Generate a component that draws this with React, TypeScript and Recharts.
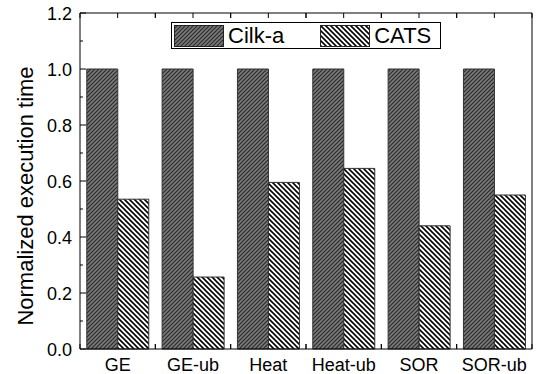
import { Bar, BarChart, Legend, XAxis, YAxis } from "recharts"

const BENCHMARKS = ["GE", "GE-ub", "Heat", "Heat-ub", "SOR", "SOR-ub"]
const CILK_A = [1.0, 1.0, 1.0, 1.0, 1.0, 1.0]
const CATS = [0.535, 0.257, 0.595, 0.645, 0.44, 0.55]
const Y_TICKS = [0, 0.1, 0.2, 0.3, 0.4, 0.5, 0.6, 0.7, 0.8, 0.9, 1.0, 1.1, 1.2]

const data = BENCHMARKS.map((name, i) => ({ name, cilk: CILK_A[i], cats: CATS[i] }))

const FONT = "'Liberation Sans', Arial, sans-serif"

// left axis: labels on majors, inward tick marks
function LeftTick(props: any) {
  const { x, y, payload, index } = props
  const axisX = x + 8
  const major = index % 2 === 0
  return (
    <g>
      <line x1={axisX} x2={axisX + (major ? 6 : 3)} y1={y} y2={y} stroke="#000" />
      {major && (
        <text x={x} y={y} dy={6.5} textAnchor="end" fontSize={18} fontFamily={FONT} fill="#000">
          {payload.value.toFixed(1)}
        </text>
      )}
    </g>
  )
}

function RightTick(props: any) {
  const { x, y, index } = props
  const major = index % 2 === 0
  return <line x1={x} x2={x - (major ? 6 : 3)} y1={y} y2={y} stroke="#000" />
}

function TopTick(props: any) {
  const { x, y, payload } = props
  const half = payload.offset || 452 / 12
  return (
    <g stroke="#000">
      <line x1={x - half} x2={x - half} y1={y} y2={y + 5} />
      <line x1={x} x2={x} y1={y} y2={y + 5} />
      <line x1={x + half} x2={x + half} y1={y} y2={y + 5} />
    </g>
  )
}

function BottomTick(props: any) {
  const { x, y, payload } = props
  const half = payload.offset || 452 / 12
  return (
    <g>
      <line x1={x - half} x2={x - half} y1={y} y2={y - 5} stroke="#000" />
      <line x1={x + half} x2={x + half} y1={y} y2={y - 5} stroke="#000" />
      <text x={x} y={y + 22} textAnchor="middle" fontSize={18} fontFamily={FONT} fill="#000">
        {payload.value}
      </text>
    </g>
  )
}

function LegendBox() {
  const item = (fill: string, label: string) => (
    <div style={{ display: "flex", alignItems: "center" }}>
      <svg width={50} height={22} style={{ display: "block" }}>
        <rect x={0.5} y={0.5} width={49} height={21} fill={fill} stroke="#222" />
      </svg>
      <span style={{ marginLeft: 4, fontSize: 22, lineHeight: "22px" }}>{label}</span>
    </div>
  )
  return (
    <div
      style={{
        position: "absolute",
        left: 171,
        top: 22,
        width: 266,
        height: 25,
        border: "1px solid #000",
        background: "#fff",
        display: "flex",
        alignItems: "center",
        gap: 36,
        paddingLeft: 2,
        fontFamily: FONT,
        color: "#000",
        boxSizing: "content-box",
      }}
    >
      {item("url(#hatch-cilk)", "Cilk-a")}
      {item("url(#hatch-cats)", "CATS")}
    </div>
  )
}

export default function App() {
  return (
    <div style={{ position: "absolute", left: 0, top: 0, width: 540, height: 374, background: "#fff" }}>
      <svg width={0} height={0} style={{ position: "absolute" }}>
        <defs>
          <pattern id="hatch-cilk" patternUnits="userSpaceOnUse" width={4} height={4}>
            <rect width={4} height={4} fill="#7a7a7a" />
            <path d="M-1,1 l2,-2 M0,4 l4,-4 M3,5 l2,-2" stroke="#2a2a2a" strokeWidth={1.2} />
          </pattern>
          <pattern id="hatch-cats" patternUnits="userSpaceOnUse" width={5} height={5}>
            <rect width={5} height={5} fill="#fff" />
            <path d="M-1,4 l2,2 M0,0 l5,5 M4,-1 l2,2" stroke="#000" strokeWidth={1.6} />
          </pattern>
        </defs>
      </svg>
      <BarChart
        width={540}
        height={374}
        data={data}
        margin={{ top: 0, right: 0, bottom: 0, left: 0 }}
        barCategoryGap="9%"
        barGap={0}
      >
        <XAxis
          dataKey="name"
          height={25}
          axisLine={{ stroke: "#000" }}
          tickLine={false}
          tickSize={0}
          tickMargin={0}
          tick={<BottomTick />}
          interval={0}
        />
        <XAxis
          xAxisId="top"
          dataKey="name"
          orientation="top"
          height={13}
          axisLine={{ stroke: "#000" }}
          tickLine={false}
          tickSize={0}
          tickMargin={0}
          tick={<TopTick />}
          interval={0}
        />
        <YAxis
          width={80}
          domain={[0, 1.2]}
          ticks={Y_TICKS}
          interval={0}
          axisLine={{ stroke: "#000" }}
          tickLine={false}
          tickSize={0}
          tickMargin={8}
          tick={<LeftTick />}
          label={{
            content: () => (
              <text
                x={33}
                y={196}
                transform="rotate(-90 33 196)"
                textAnchor="middle"
                fontSize={22}
                fontFamily={FONT}
                fill="#000"
              >
                Normalized execution time
              </text>
            ),
          }}
        />
        <YAxis
          yAxisId="right"
          orientation="right"
          width={8}
          domain={[0, 1.2]}
          ticks={Y_TICKS}
          interval={0}
          axisLine={{ stroke: "#000" }}
          tickLine={false}
          tickSize={0}
          tickMargin={0}
          tick={<RightTick />}
        />
        <Legend content={() => null} />
        <Bar dataKey="cilk" name="Cilk-a" fill="url(#hatch-cilk)" stroke="#333" strokeWidth={1} isAnimationActive={false} />
        <Bar dataKey="cats" name="CATS" fill="url(#hatch-cats)" stroke="#333" strokeWidth={1} isAnimationActive={false} />
      </BarChart>
      <LegendBox />
    </div>
  )
}
